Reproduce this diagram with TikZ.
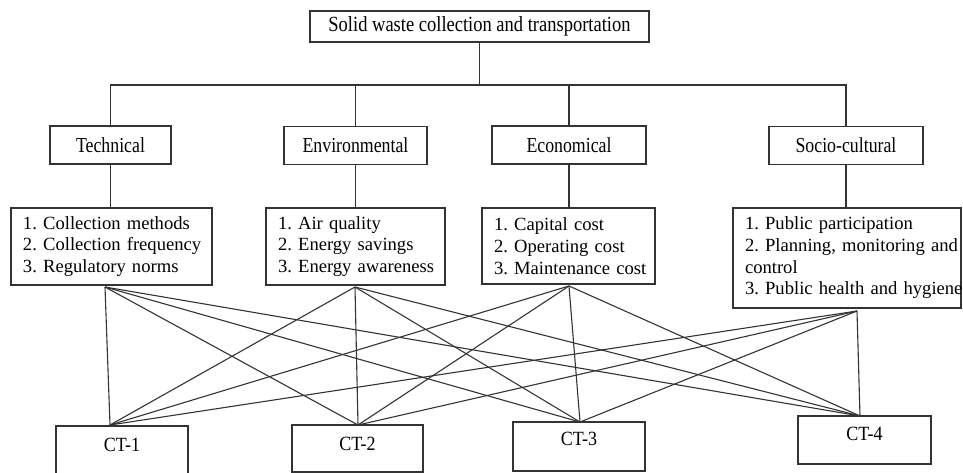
\documentclass[tikz,border=0pt]{standalone}
\usepackage{graphicx}
\usepackage{fontspec}
\setmainfont{Liberation Serif}
\usetikzlibrary{calc}
\newcommand\vstretch[2]{\scalebox{1}[#1]{#2}}
\frenchspacing
\begin{document}
\begin{tikzpicture}[x=1pt,y=-1pt,
  box/.style={draw=black!80, line width=1.3pt, inner sep=0pt, outer sep=0pt},
  link/.style={draw=black!80, line width=1.1pt},
  topbox/.style={box, minimum width=339pt, minimum height=31pt, font=\fontsize{18.5}{21}\selectfont},
  catbox/.style={box, minimum height=38pt, font=\fontsize{17.8}{20}\selectfont},
  detbox/.style={box, align=left, inner xsep=12pt, font=\fontsize{18.6}{21.7}\selectfont},
  ctbox/.style={box, minimum width=132pt, anchor=north, font=\fontsize{18}{20}\selectfont}
]
\useasboundingbox (0,0) rectangle (963,473);
\begin{scope}
\clip (0,0) rectangle (963,473);
% top
\node[topbox] (top) at (479.5,26.5) {\vstretch{1.17}{Solid waste collection and transportation}};
% categories
\node[catbox, minimum width=121pt] (tech) at (110.5,145) {\vstretch{1.2}{Technical}};
\node[catbox, minimum width=143pt] (env) at (355.5,145.5) {\vstretch{1.2}{Environmental}};
\node[catbox, minimum width=154pt] (eco) at (569,145) {\vstretch{1.2}{Economical}};
\node[catbox, minimum width=154pt] (soc) at (846,145.5) {\vstretch{1.2}{Socio-cultural}};
% details
\node[detbox, text width=177pt, minimum height=77pt] (techd) at (111.5,246.5)
  {\mbox{1. Collection methods}\\\mbox{2. Collection frequency}\\\mbox{3. Regulatory norms}};
\node[detbox, text width=155pt, minimum height=77pt] (envd) at (355.5,246.5)
  {\mbox{1. Air quality}\\\mbox{2. Energy savings}\\\mbox{3. Energy awareness}};
\node[detbox, text width=149pt, minimum height=76pt] (ecod) at (568.5,246)
  {\mbox{1. Capital cost}\\\mbox{2. Operating cost}\\\mbox{3. Maintenance cost}};
\node[detbox, text width=204pt, minimum height=100pt] (socd) at (847,258)
  {\mbox{1. Public participation}\\\mbox{2. Planning, monitoring and}\\\mbox{control}\\\mbox{3. Public health and hygiene}};
% CT boxes
\node[ctbox, text height=25pt, text depth=27pt] (ct1) at (122,426) {\vstretch{1.12}{CT-1}};
\node[ctbox, minimum width=131pt, text height=25pt, text depth=22pt] (ct2) at (357.5,425) {\vstretch{1.12}{CT-2}};
\node[ctbox, text height=23pt, text depth=26pt] (ct3) at (579,422) {\vstretch{1.12}{CT-3}};
\node[ctbox, minimum width=133pt, text height=24pt, text depth=24pt] (ct4) at (864.5,416) {\vstretch{1.12}{CT-4}};
% tree
\draw[link] (top.south) -- ($(top.south)+(0,43)$) coordinate (hub);
\draw[link] (tech.north) |- (hub);
\draw[link] (soc.north) |- (hub);
\draw[link] (env.north) -- (env.north |- hub);
\draw[link] (eco.north) -- (eco.north |- hub);
\draw[link] (tech.south) -- (tech.south |- techd.north);
\draw[link] (env.south) -- (env.south |- envd.north);
\draw[link] (eco.south) -- (eco.south |- ecod.north);
\draw[link] (soc.south) -- (soc.south |- socd.north);
% fan points
\coordinate (pT) at (105,287);
\coordinate (pE) at (355,287);
\coordinate (pEc) at (569,286);
\coordinate (pS) at (857,311);
\coordinate (q1) at (110,425);
\coordinate (q2) at (358,425);
\coordinate (q3) at (580,422);
\coordinate (q4) at (860,416);
\foreach \a in {pT,pE,pEc,pS}{
  \foreach \b in {q1,q2,q3,q4}{
    \draw[link] (\a) -- (\b);
  }
}
\end{scope}
\end{tikzpicture}
\end{document}
